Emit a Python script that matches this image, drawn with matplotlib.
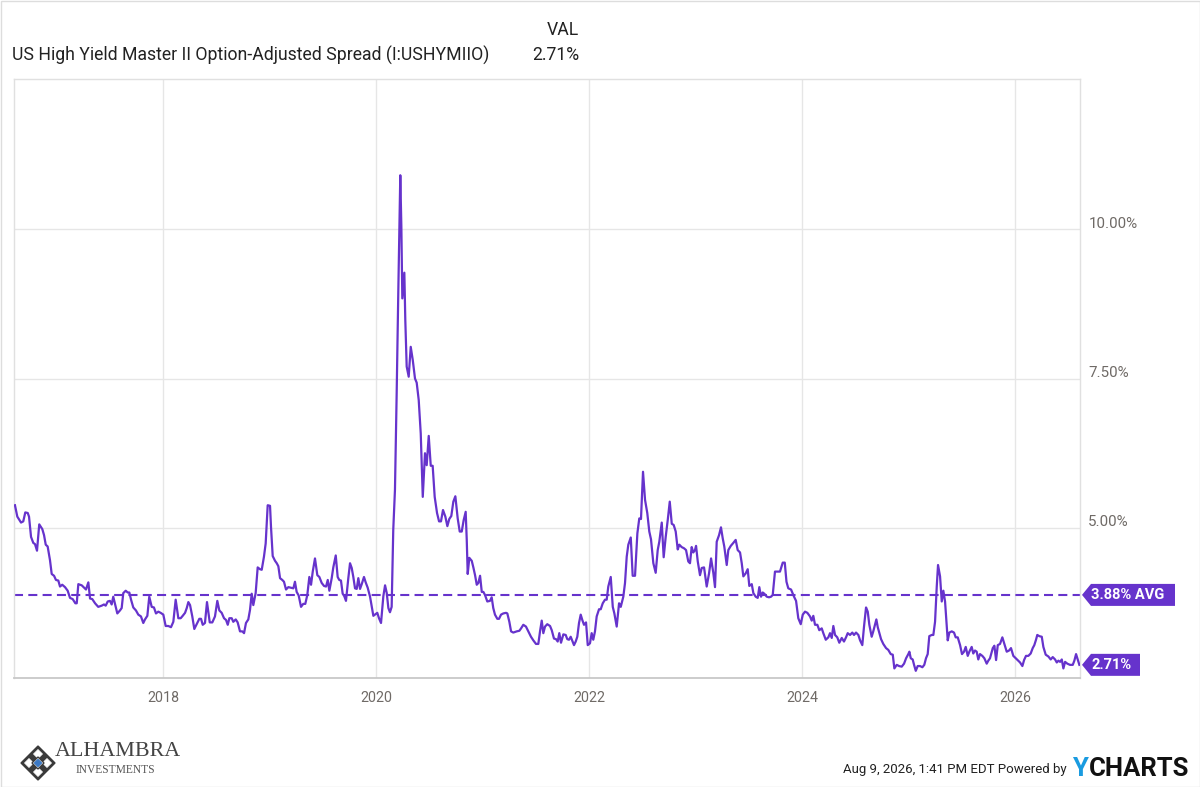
import matplotlib
matplotlib.use("Agg")
import matplotlib.pyplot as plt
from matplotlib.patches import Polygon, Rectangle
from matplotlib.transforms import IdentityTransform, ScaledTranslation

plt.rcParams['font.family'] = ['Roboto', 'DejaVu Sans']
plt.rcParams['lines.scale_dashes'] = False

# ---------------- data ----------------
series_name = "US High Yield Master II Option-Adjusted Spread (I:USHYMIIO)"
last_value = 2.71
average_value = 3.88
x_ticks = [2018, 2020, 2022, 2024, 2026]
x_tick_labels = ["2018", "2020", "2022", "2024", "2026"]
y_ticks = [5.0, 7.5, 10.0]
y_tick_labels = ["5.00%", "7.50%", "10.00%"]
timestamp = "Aug 9, 2026, 1:41 PM EDT Powered by"

years = [
    2016.610, 2016.632, 2016.667, 2016.688, 2016.707, 2016.730, 2016.742, 2016.761, 2016.782, 2016.798,
    2016.817, 2016.838, 2016.867, 2016.883, 2016.899, 2016.917, 2016.939, 2016.955, 2016.977, 2016.995,
    2017.017, 2017.033, 2017.054, 2017.080, 2017.105, 2017.127, 2017.152, 2017.177, 2017.190, 2017.205,
    2017.237, 2017.277, 2017.299, 2017.315, 2017.336, 2017.362, 2017.392, 2017.424, 2017.446, 2017.462,
    2017.481, 2017.502, 2017.518, 2017.533, 2017.552, 2017.571, 2017.596, 2017.612, 2017.627, 2017.650,
    2017.669, 2017.684, 2017.700, 2017.721, 2017.746, 2017.768, 2017.793, 2017.815, 2017.831, 2017.853,
    2017.871, 2017.894, 2017.915, 2017.934, 2017.956, 2017.978, 2018.003, 2018.025, 2018.050, 2018.075,
    2018.097, 2018.119, 2018.144, 2018.166, 2018.185, 2018.207, 2018.223, 2018.238, 2018.254, 2018.275,
    2018.294, 2018.316, 2018.341, 2018.357, 2018.373, 2018.394, 2018.413, 2018.439,
    2018.463, 2018.488, 2018.510, 2018.529, 2018.551, 2018.573, 2018.592, 2018.608, 2018.623, 2018.645,
    2018.660, 2018.683, 2018.701, 2018.723, 2018.745, 2018.761, 2018.779, 2018.801, 2018.817, 2018.833,
    2018.848, 2018.870, 2018.889, 2018.911, 2018.927, 2018.948, 2018.964, 2018.983, 2019.005, 2019.014,
    2019.030, 2019.052, 2019.068, 2019.083, 2019.099, 2019.120, 2019.136, 2019.155, 2019.177, 2019.202,
    2019.224, 2019.239, 2019.255, 2019.274, 2019.296, 2019.317, 2019.336, 2019.355, 2019.374, 2019.390,
    2019.406, 2019.427, 2019.449, 2019.468, 2019.490, 2019.512, 2019.531, 2019.547, 2019.562, 2019.584,
    2019.599, 2019.622, 2019.640, 2019.655, 2019.671, 2019.687, 2019.702, 2019.718, 2019.740, 2019.756,
    2019.772, 2019.787, 2019.803, 2019.819, 2019.834, 2019.850, 2019.866, 2019.887, 2019.903, 2019.922,
    2019.944, 2019.960, 2019.975, 2019.997, 2020.012, 2020.028, 2020.047, 2020.069, 2020.085, 2020.101,
    2020.116, 2020.131, 2020.147, 2020.162, 2020.178, 2020.194, 2020.209, 2020.228, 2020.238, 2020.247,
    2020.266, 2020.275, 2020.288, 2020.307, 2020.326, 2020.345, 2020.366, 2020.382, 2020.401, 2020.420,
    2020.439, 2020.460, 2020.476, 2020.495, 2020.514, 2020.532, 2020.551, 2020.573, 2020.592, 2020.610,
    2020.629, 2020.651, 2020.670, 2020.688, 2020.707, 2020.726, 2020.745, 2020.767, 2020.786, 2020.805,
    2020.823, 2020.842, 2020.852, 2020.861, 2020.876, 2020.899, 2020.914, 2020.930, 2020.946, 2020.961,
    2020.977, 2020.993, 2021.008, 2021.023, 2021.045, 2021.070, 2021.086, 2021.101, 2021.117, 2021.139,
    2021.155, 2021.174, 2021.195, 2021.221, 2021.233, 2021.252, 2021.268, 2021.289, 2021.321, 2021.346,
    2021.362, 2021.383, 2021.408, 2021.430, 2021.455, 2021.477, 2021.502, 2021.524, 2021.540, 2021.556,
    2021.571, 2021.587, 2021.608, 2021.634, 2021.650, 2021.671, 2021.690, 2021.706, 2021.721, 2021.737,
    2021.759, 2021.781, 2021.796, 2021.812, 2021.828, 2021.843, 2021.859, 2021.875, 2021.890, 2021.906,
    2021.922, 2021.937, 2021.953, 2021.972, 2021.988, 2022.009, 2022.025, 2022.040, 2022.056, 2022.072,
    2022.094, 2022.110, 2022.129, 2022.150, 2022.166, 2022.181, 2022.204, 2022.223, 2022.238, 2022.260,
    2022.282, 2022.298, 2022.322, 2022.338, 2022.354, 2022.369, 2022.392, 2022.410, 2022.432, 2022.454,
    2022.472, 2022.488, 2022.507, 2022.526, 2022.547, 2022.566, 2022.582, 2022.604, 2022.626, 2022.645,
    2022.660, 2022.683, 2022.701, 2022.720, 2022.739, 2022.758, 2022.777, 2022.795, 2022.814, 2022.833,
    2022.848, 2022.870, 2022.892, 2022.911, 2022.932, 2022.948, 2022.964, 2022.979, 2022.995, 2023.005,
    2023.021, 2023.042, 2023.058, 2023.080, 2023.105, 2023.127, 2023.146, 2023.167, 2023.183, 2023.199,
    2023.221, 2023.239, 2023.255, 2023.270, 2023.293, 2023.308, 2023.331, 2023.355, 2023.377, 2023.396,
    2023.418, 2023.434, 2023.449, 2023.471, 2023.490, 2023.505, 2023.528, 2023.543, 2023.565, 2023.584,
    2023.599, 2023.615, 2023.631, 2023.646, 2023.669, 2023.690, 2023.709, 2023.725, 2023.746, 2023.768,
    2023.793, 2023.819, 2023.838, 2023.854, 2023.871, 2023.897, 2023.925, 2023.944, 2023.965, 2023.988,
    2024.007, 2024.028, 2024.050, 2024.075, 2024.091, 2024.106, 2024.122, 2024.144, 2024.162, 2024.185,
    2024.200, 2024.223, 2024.247, 2024.263, 2024.279, 2024.294, 2024.310, 2024.331, 2024.350, 2024.373,
    2024.394, 2024.413, 2024.429, 2024.451, 2024.472, 2024.488, 2024.507, 2024.529, 2024.545, 2024.566,
    2024.582, 2024.601, 2024.617, 2024.632, 2024.654, 2024.669, 2024.685, 2024.698, 2024.711, 2024.726,
    2024.742, 2024.763, 2024.789, 2024.810, 2024.833, 2024.852, 2024.867, 2024.889, 2024.911, 2024.936,
    2024.958, 2024.977, 2024.998, 2025.008, 2025.021, 2025.039, 2025.052, 2025.068, 2025.086, 2025.108,
    2025.130, 2025.148, 2025.164, 2025.180, 2025.195, 2025.218, 2025.233, 2025.249, 2025.265, 2025.277,
    2025.296, 2025.312, 2025.327, 2025.343, 2025.359, 2025.368, 2025.383, 2025.406, 2025.427, 2025.443,
    2025.462, 2025.484, 2025.502, 2025.521, 2025.537, 2025.556, 2025.571, 2025.593, 2025.608, 2025.624,
    2025.640, 2025.655, 2025.671, 2025.693, 2025.712, 2025.734, 2025.749, 2025.765, 2025.791, 2025.806,
    2025.822, 2025.838, 2025.859, 2025.881, 2025.900, 2025.922, 2025.944, 2025.962, 2025.984, 2026.007,
    2026.025, 2026.047, 2026.069, 2026.085, 2026.103, 2026.125, 2026.147, 2026.166, 2026.181, 2026.197,
    2026.209, 2026.228, 2026.251, 2026.266, 2026.288, 2026.313, 2026.335, 2026.354, 2026.376, 2026.392,
    2026.407, 2026.423, 2026.439, 2026.454, 2026.470, 2026.491, 2026.516, 2026.542, 2026.557, 2026.573,
    2026.589, 2026.604,
]

spread = [
    5.38, 5.19, 5.09, 5.11, 5.26, 5.25, 5.19, 4.85, 4.75, 4.73,
    4.62, 5.06, 4.98, 4.88, 4.72, 4.69, 4.46, 4.23, 4.20, 4.13,
    4.12, 4.02, 4.05, 4.01, 3.95, 3.83, 3.81, 3.74, 3.74, 4.06,
    4.04, 3.97, 4.09, 3.82, 3.81, 3.74, 3.68, 3.70, 3.72, 3.70,
    3.77, 3.78, 3.72, 3.85, 3.71, 3.57, 3.62, 3.66, 3.91, 3.95,
    3.92, 3.92, 3.80, 3.67, 3.62, 3.55, 3.52, 3.41, 3.47, 3.53,
    3.85, 3.68, 3.67, 3.57, 3.60, 3.58, 3.55, 3.36, 3.36, 3.34,
    3.43, 3.80, 3.49, 3.49, 3.53, 3.58, 3.66, 3.76, 3.71, 3.52,
    3.31, 3.39, 3.48, 3.48, 3.38, 3.41, 3.76, 3.42,
    3.42, 3.52, 3.78, 3.62, 3.58, 3.49, 3.46, 3.38, 3.49, 3.49,
    3.43, 3.47, 3.42, 3.27, 3.27, 3.24, 3.41, 3.47, 3.63, 3.90,
    3.71, 3.91, 4.34, 4.31, 4.30, 4.52, 4.74, 5.38, 5.37, 5.02,
    4.53, 4.45, 4.41, 4.36, 4.16, 4.13, 4.10, 3.97, 4.01, 4.00,
    3.99, 4.10, 3.93, 3.87, 3.68, 3.73, 3.73, 3.88, 4.18, 4.05,
    4.27, 4.49, 4.21, 4.18, 4.08, 4.03, 4.02, 4.13, 3.95, 4.16,
    4.34, 4.54, 4.18, 4.13, 4.12, 3.90, 3.86, 3.78, 4.16, 4.41,
    4.33, 4.18, 3.99, 3.98, 4.16, 3.98, 4.06, 4.18, 4.09, 4.00,
    3.85, 3.68, 3.53, 3.56, 3.58, 3.49, 3.41, 3.86, 4.04, 3.91,
    3.66, 3.59, 3.68, 4.97, 5.64, 7.25, 8.92, 10.90, 10.04, 8.84,
    9.27, 8.48, 7.70, 7.53, 8.03, 7.81, 7.50, 7.43, 7.14, 6.58,
    5.52, 6.25, 6.05, 6.54, 6.04, 6.04, 5.52, 5.25, 5.11, 5.11,
    5.30, 5.19, 5.03, 5.15, 5.20, 5.44, 5.53, 5.16, 4.94, 4.94,
    5.13, 5.27, 4.80, 4.23, 4.50, 4.45, 4.34, 4.21, 4.05, 4.08,
    4.20, 3.93, 3.93, 3.88, 3.77, 3.78, 3.84, 3.66, 3.55, 3.48,
    3.48, 3.55, 3.57, 3.58, 3.57, 3.43, 3.27, 3.25, 3.27, 3.28,
    3.32, 3.38, 3.35, 3.27, 3.18, 3.12, 3.06, 3.06, 3.27, 3.45,
    3.24, 3.35, 3.39, 3.36, 3.29, 3.15, 3.14, 3.10, 3.24, 3.08,
    3.22, 3.21, 3.14, 3.13, 3.18, 3.11, 3.04, 3.10, 3.18, 3.41,
    3.55, 3.46, 3.38, 3.42, 3.04, 3.07, 3.24, 3.13, 3.27, 3.52,
    3.64, 3.64, 3.74, 3.80, 3.80, 4.02, 4.18, 3.68, 3.57, 3.35,
    3.74, 3.68, 3.85, 4.08, 4.52, 4.72, 4.84, 4.20, 4.20, 4.91,
    5.16, 5.15, 5.94, 5.47, 5.25, 4.94, 4.81, 4.41, 4.25, 4.63,
    4.77, 5.09, 4.51, 4.85, 5.13, 5.44, 5.07, 5.05, 4.94, 4.64,
    4.72, 4.68, 4.66, 4.63, 4.44, 4.41, 4.68, 4.59, 4.63, 4.70,
    4.44, 4.21, 4.33, 4.34, 4.02, 4.24, 4.49, 4.25, 4.01, 4.77,
    4.88, 5.01, 4.83, 4.69, 4.38, 4.63, 4.70, 4.75, 4.80, 4.63,
    4.59, 4.41, 4.19, 4.24, 4.31, 4.03, 4.06, 3.91, 3.85, 3.83,
    4.01, 3.85, 3.92, 3.90, 3.85, 3.84, 3.85, 3.88, 4.27, 4.27,
    4.27, 4.42, 4.42, 4.10, 3.99, 3.97, 3.85, 3.78, 3.49, 3.39,
    3.55, 3.60, 3.58, 3.52, 3.45, 3.53, 3.38, 3.38, 3.29, 3.32,
    3.24, 3.13, 3.17, 3.24, 3.16, 3.36, 3.21, 3.17, 3.08, 3.16,
    3.10, 3.17, 3.24, 3.21, 3.25, 3.21, 3.25, 3.21, 3.12, 3.04,
    3.35, 3.67, 3.60, 3.38, 3.18, 3.27, 3.38, 3.47, 3.34, 3.24,
    3.14, 3.06, 2.99, 2.96, 2.89, 2.88, 2.65, 2.71, 2.69, 2.68,
    2.73, 2.82, 2.89, 2.93, 2.82, 2.80, 2.71, 2.61, 2.69, 2.69,
    2.67, 2.71, 2.82, 2.89, 3.19, 3.21, 3.21, 3.43, 4.02, 4.38,
    4.19, 3.77, 3.95, 3.77, 3.35, 3.12, 3.25, 3.27, 3.25, 3.17,
    3.17, 3.04, 2.89, 2.93, 3.01, 2.86, 2.93, 3.01, 2.90, 2.95,
    2.93, 2.80, 2.89, 2.86, 2.82, 2.73, 2.78, 2.82, 2.99, 3.03,
    2.79, 3.04, 3.06, 3.17, 3.06, 2.93, 2.95, 2.99, 2.86, 2.82,
    2.79, 2.75, 2.69, 2.79, 2.86, 2.86, 2.90, 2.99, 3.04, 3.13,
    3.21, 3.19, 3.18, 3.01, 2.88, 2.85, 2.80, 2.84, 2.80, 2.75,
    2.78, 2.76, 2.80, 2.65, 2.76, 2.73, 2.71, 2.71, 2.78, 2.89,
    2.80, 2.71,
]

# ---------------- style ----------------
PURPLE = "#6633cc"
GRID = "#e6e6e6"
TICK_COLOR = "#6f6a66"

W, H = 1200, 787
fig = plt.figure(figsize=(W / 100, H / 100), dpi=100)
fig.patch.set_facecolor("white")

ax_l, ax_r, ax_t, ax_b = 14, 1080, 79, 678
ax = fig.add_axes([ax_l / W, 1 - ax_b / H, (ax_r - ax_l) / W, (ax_b - ax_t) / H])

ax.plot(years, spread, color=PURPLE, lw=1.6, solid_joinstyle="round", zorder=3)
ax.axhline(average_value, color=PURPLE, lw=1.5, dashes=(6.5, 3.8), zorder=2)

ax.set_xlim(2016.601, 2026.610)
ax.set_ylim(2.49, 12.51)

ax.set_xticks(x_ticks)
ax.set_xticklabels(x_tick_labels)
ax.set_yticks(y_ticks)
ax.set_yticklabels(y_tick_labels)
ax.grid(True, color=GRID, lw=1)
ax.set_axisbelow(True)

ax.yaxis.tick_right()
ax.tick_params(axis="both", length=0, colors=TICK_COLOR)
ax.tick_params(axis="x", pad=9, labelsize=10.3)
ax.tick_params(axis="y", pad=6, labelsize=10.9)
off = ScaledTranslation(0, 7 / 100, fig.dpi_scale_trans)
for lab in ax.get_yticklabels():
    lab.set_transform(lab.get_transform() + off)

for s in ["left", "top", "right"]:
    ax.spines[s].set_color("#e0e0e0")
    ax.spines[s].set_linewidth(1)
ax.spines["bottom"].set_color("#c8c8c8")
ax.spines["bottom"].set_linewidth(1.3)

# ---------------- value tags ----------------
fig.canvas.draw()


def tag(value, text, right, text_center):
    yc = ax.transData.transform((2020, value))[1]
    tip, left, h = 1082, 1091, 11
    poly = Polygon([(tip, yc), (left, yc + h), (right, yc + h), (right, yc - h), (left, yc - h)],
                   closed=True, facecolor=PURPLE, edgecolor="none",
                   transform=IdentityTransform(), zorder=5)
    fig.add_artist(poly)
    fig.text(text_center / W, yc / H, text, color="white", fontsize=10.5,
             fontweight="bold", ha="center", va="center", zorder=6)


tag(average_value, f"{average_value:.2f}% AVG", 1175, 1128)
tag(last_value, f"{last_value:.2f}%", 1140, 1112)

# ---------------- header ----------------
fig.text(12 / W, 1 - 55 / H, series_name, fontsize=12.7, color="#222222", ha="left", va="center")
fig.text(579 / W, 1 - 30 / H, "VAL", fontsize=12.7, color="#222222", ha="right", va="center")
fig.text(579 / W, 1 - 55 / H, f"{last_value:.2f}%", fontsize=12.7, color="#222222", ha="right", va="center")

# ---------------- footer ----------------
fig.text(1067 / W, 1 - 770 / H, timestamp, fontsize=9.5, color="#222222", ha="right", va="center")
ty = fig.text(1072 / W, 1 - 769 / H, "Y", fontsize=18.5, fontweight="bold", color="#1a9be0",
              ha="left", va="center")
fig.canvas.draw()
bb = ty.get_window_extent()
fig.text((bb.x1 + 1) / W, 1 - 769 / H, "CHARTS", fontsize=18.5, fontweight="bold", color="#111111",
         ha="left", va="center")

# Alhambra logo (approximation)
cx, cy = 38, H - 763


def diamond(r, fc, ec, lw=1.0, z=4, dx=0, dy=0):
    p = Polygon([(cx + dx, cy + dy + r), (cx + dx + r, cy + dy), (cx + dx, cy + dy - r), (cx + dx - r, cy + dy)],
                closed=True, facecolor=fc, edgecolor=ec, lw=lw, transform=IdentityTransform(), zorder=z)
    fig.add_artist(p)


diamond(17, "#3a3a3a", "#3a3a3a")
for dx, dy in [(0, 9), (9, 0), (0, -9), (-9, 0)]:
    diamond(4.5, "white", "white", lw=0.5, z=5, dx=dx, dy=dy)
diamond(6, "white", "#3a3a3a", lw=1, z=5)
diamond(3.5, "#3b78c4", "#3b78c4", z=6)

fig.text(55 / W, 1 - 752 / H, "ALHAMBRA", family=["Liberation Serif", "DejaVu Serif"], fontsize=15.8,
         color="#444444", ha="left", va="center")
fig.text(115 / W, 1 - 770 / H, "INVESTMENTS", family=["Liberation Serif", "DejaVu Serif"], fontsize=8.3,
         color="#555555", ha="center", va="center")

# outer frame
fig.add_artist(Rectangle((0.5, 0.5), W - 1, H - 1, fill=False, edgecolor="#dddddd", lw=1,
                         transform=IdentityTransform()))

fig.savefig("out.png", dpi=100, facecolor="white")
